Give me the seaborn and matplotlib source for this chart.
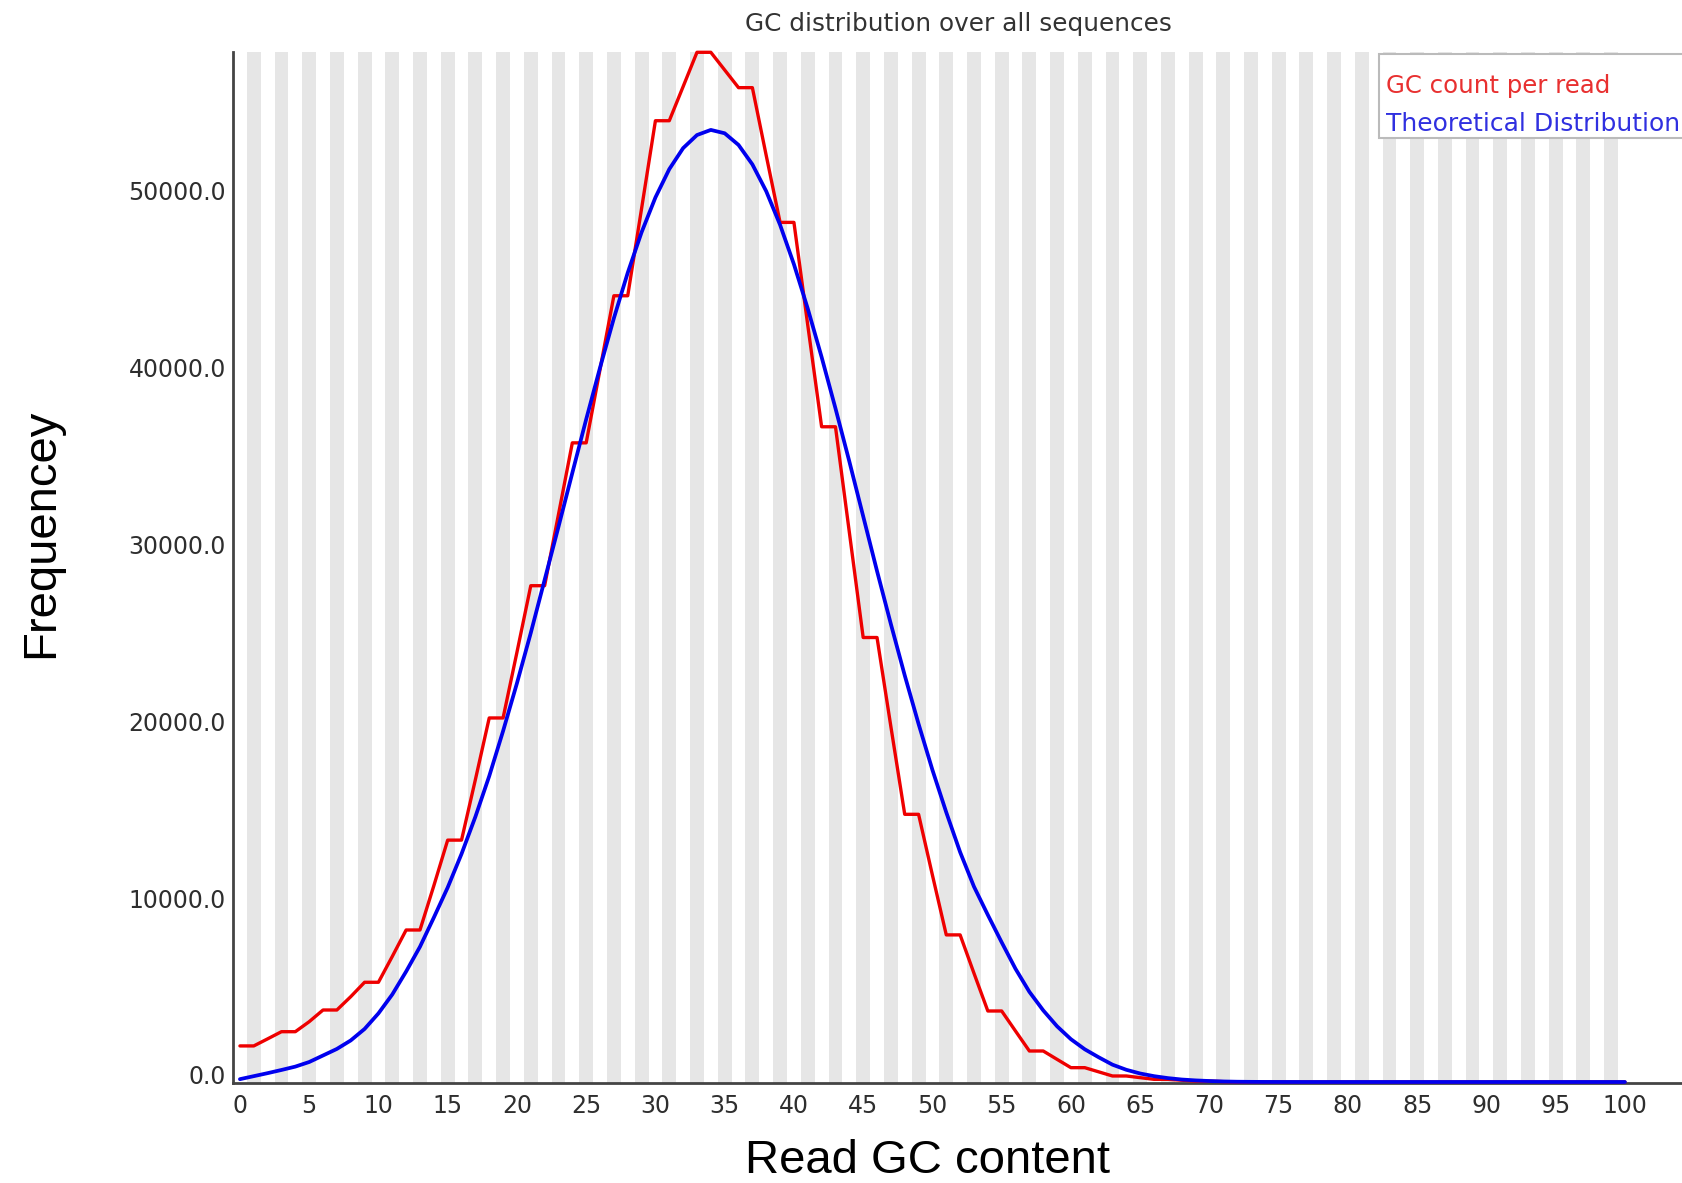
import matplotlib
matplotlib.use("Agg")
import matplotlib.pyplot as plt
import seaborn as sns
import pandas as pd
from matplotlib.patches import Rectangle
from matplotlib.transforms import ScaledTranslation

# ---------------- data ----------------
gc_content = list(range(101))
gc_count_per_read = [
    2040, 2040, 2440, 2845, 2845, 3410, 4072, 4072, 4825, 5640,
    5640, 7100, 8597, 8597, 11100, 13680, 13680, 17100, 20590, 20590,
    24300, 28070, 28070, 32100, 36150, 36150, 40300, 44470, 44470, 49400,
    54370, 54370, 56300, 58240, 58240, 57240, 56240, 56240, 52400, 48620,
    48620, 42800, 37060, 37060, 31100, 25140, 25140, 20100, 15140, 15140,
    11700, 8320, 8320, 6150, 4016, 4016, 2880, 1753, 1753, 1280,
    810, 810, 575, 340, 340, 245, 150, 150, 100, 50,
    50, 20, 0, 0, 0, 0, 0, 0, 0, 0,
    0, 0, 0, 0, 0, 0, 0, 0, 0, 0,
    0, 0, 0, 0, 0, 0, 0, 0, 0, 0,
    0,
]
theoretical_distribution = [
    160, 330, 500, 680, 870, 1130, 1500, 1870, 2350, 3000,
    3880, 4950, 6250, 7650, 9300, 11000, 12900, 15000, 17300, 19850,
    22550, 25400, 28400, 31400, 34450, 37480, 40400, 43200, 45770, 48060,
    50030, 51630, 52820, 53560, 53850, 53660, 53000, 51900, 50380, 48480,
    46250, 43740, 41000, 38100, 35100, 32000, 28900, 25900, 23000, 20250,
    17650, 15250, 13000, 11050, 9450, 7900, 6400, 5100, 4050, 3150,
    2420, 1850, 1400, 980, 690, 480, 330, 220, 140, 90,
    55, 30, 15, 8, 4, 2, 1, 0, 0, 0,
    0, 0, 0, 0, 0, 0, 0, 0, 0, 0,
    0, 0, 0, 0, 0, 0, 0, 0, 0, 0,
    0,
]
series_labels = ["GC count per read", "Theoretical Distribution"]
y_ticks = [0, 10000, 20000, 30000, 40000, 50000]
x_ticks = list(range(0, 101, 5))
title = "GC distribution over all sequences"
x_label = "Read GC content"
y_label = "Frequencey"

df = pd.DataFrame({
    "gc": gc_content,
    "count": gc_count_per_read,
    "theory": theoretical_distribution,
})

# ---------------- style ----------------
sns.set_style("white")
plt.rcParams["font.family"] = ["DejaVu Sans"]

W, H = 1683, 1183
fig = plt.figure(figsize=(W / 100, H / 100), dpi=100)
ax_left, ax_bottom_px, ax_top_px = 233, 1083, 52.3
ax = fig.add_axes([ax_left / W, (H - ax_bottom_px) / H,
                   (W - ax_left) / W, (ax_bottom_px - ax_top_px) / H])

# alternating background stripes (one per GC category)
for i in gc_content:
    if i % 2 == 1:
        ax.axvspan(i - 0.5, i + 0.5, color="#e6e6e6", lw=0, zorder=0)

red = "#ee0000"
blue = "#0000ee"
sns.lineplot(data=df, x="gc", y="count", ax=ax, color=red, lw=2.4,
             estimator=None, sort=False, zorder=3, clip_on=False)
sns.lineplot(data=df, x="gc", y="theory", ax=ax, color=blue, lw=2.7,
             estimator=None, sort=False, zorder=4, clip_on=False)

ax.set_xlim(-0.5, -0.5 + (W - ax_left) / 13.85)
ax.set_ylim(-57, max(gc_count_per_read))

ax.set_xticks(x_ticks)
ax.set_xticklabels([str(v) for v in x_ticks])
ax.set_yticks(y_ticks)
ax.set_yticklabels(["%.1f" % v for v in y_ticks])
ax.tick_params(axis="both", length=0, labelsize=17, labelcolor="#2e2e2e")
ax.tick_params(axis="x", pad=8)
ax.tick_params(axis="y", pad=5)
for lab in ax.get_yticklabels():
    lab.set_transform(lab.get_transform() + ScaledTranslation(0, 0.07, fig.dpi_scale_trans))

ax.set_xlabel("")
ax.set_ylabel("")
for s in ["top", "right"]:
    ax.spines[s].set_visible(False)
for s in ["left", "bottom"]:
    ax.spines[s].set_color("#444444")
    ax.spines[s].set_linewidth(2.0)
ax.grid(False)

# title and axis titles
fig.text((ax_left + W) / 2 / W, 1 - 23.5 / H, title, ha="center", va="center",
         fontsize=17.8, color="#333333")
fig.text(928 / W, 1 - 1161 / H, x_label, ha="center", va="center",
         fontsize=34, family="Liberation Sans", color="black")
fig.text(41 / W, 1 - 533 / H, y_label, ha="center", va="center", rotation=90,
         fontsize=34, family="Liberation Sans", color="black")

# legend box (cut off by the right edge, as in the reference)
fig.patches.append(Rectangle((1379.3 / W, 1 - 138.3 / H), 0.3, (138.3 - 54) / H,
                             transform=fig.transFigure, facecolor="white",
                             edgecolor="#bbbbbb", lw=1.5, zorder=10))
fig.text(1386 / W, 1 - 92.7 / H, series_labels[0], ha="left", va="baseline",
         fontsize=17.6, color="#e83030", zorder=11)
fig.text(1386 / W, 1 - 130.7 / H, series_labels[1], ha="left", va="baseline",
         fontsize=18, color="#3030e0", zorder=11)

fig.savefig("out.png", dpi=100)
